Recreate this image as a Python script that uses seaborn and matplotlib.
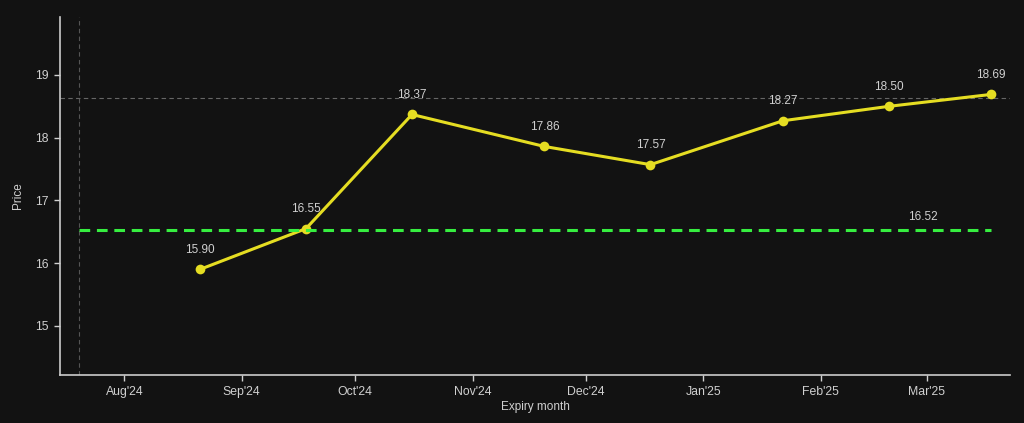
import matplotlib
matplotlib.use("Agg")
import matplotlib.pyplot as plt
import matplotlib.dates as mdates
import pandas as pd
import seaborn as sns

# Expiry dates and settlement prices
expiry_dates = ["2024-08-21", "2024-09-18", "2024-10-16", "2024-11-20",
                "2024-12-18", "2025-01-22", "2025-02-19", "2025-03-18"]
prices = [15.90, 16.55, 18.37, 17.86, 17.57, 18.27, 18.50, 18.69]
spot_price = 16.52
ref_level = 18.63
today = "2024-07-20"

df = pd.DataFrame({"Expiry month": pd.to_datetime(expiry_dates), "Price": prices})

bg = "#121212"
fg = "#d0d0d0"

sns.set_theme(style="dark")
plt.rcParams["font.family"] = ["Liberation Sans", "DejaVu Sans"]

fig = plt.figure(figsize=(10.24, 4.23), dpi=100, facecolor=bg)
ax = fig.add_axes([0.0586, 0.1142, 0.9277, 0.8449])
ax.set_facecolor(bg)

sns.lineplot(data=df, x="Expiry month", y="Price", ax=ax, color="#e5dd22",
             linewidth=2.2, marker="o", markersize=7, markeredgewidth=0, zorder=3)

# spot line from today to the last expiry
ax.plot([pd.Timestamp(today), df["Expiry month"].iloc[-1]], [spot_price, spot_price],
        color="#36ee40", linestyle=(0, (3.5, 2.2)), linewidth=2.2, zorder=4)
ax.text(pd.Timestamp("2025-02-28"), spot_price + 0.21, f"{spot_price:.2f}",
        color=fg, fontsize=8.5, ha="center", va="center")

ax.axhline(ref_level, color="#666666", linestyle=(0, (4, 3)), linewidth=0.8, zorder=1)
ax.axvline(pd.Timestamp(today), color="#555555", linestyle=(0, (4, 3)), linewidth=0.8, zorder=1)

for d, p in zip(df["Expiry month"], df["Price"]):
    ax.annotate(f"{p:.2f}", (d, p), xytext=(0, 14), textcoords="offset points",
                color=fg, fontsize=8.5, ha="center", va="center")

ax.set_xlim(pd.Timestamp("2024-07-15"), pd.Timestamp("2025-03-23"))
ax.set_ylim(14.22, 19.92)
ax.set_yticks([15, 16, 17, 18, 19])
ax.xaxis.set_major_locator(mdates.MonthLocator())
ax.xaxis.set_major_formatter(mdates.DateFormatter("%b'%y"))

ax.grid(False)
for side in ["top", "right"]:
    ax.spines[side].set_visible(False)
for side in ["left", "bottom"]:
    ax.spines[side].set_color("#cccccc")
    ax.spines[side].set_linewidth(1.2)

ax.tick_params(axis="both", colors=fg, labelsize=8.8, length=4, width=1,
               bottom=True, left=True, pad=4)
ax.set_xlabel("Expiry month", color=fg, fontsize=8.5, labelpad=2)
ax.set_ylabel("Price", color=fg, fontsize=8.5, labelpad=8)

fig.savefig("out.png", dpi=100, facecolor=bg)
